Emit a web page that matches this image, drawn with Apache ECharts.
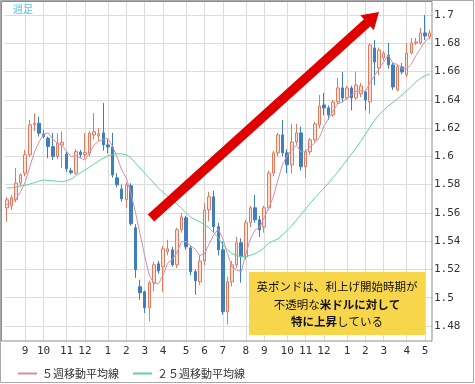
<!DOCTYPE html>
<html><head><meta charset="utf-8">
<script src="https://cdn.jsdelivr.net/npm/echarts@6/dist/echarts.min.js"></script>
<style>html,body{margin:0;padding:0;background:#fff}#c{width:475px;height:384px}</style>
</head><body><div id="c"></div>
<script>
const opens=[1.5636,1.5650,1.5693,1.5811,1.5881,1.6011,1.6223,1.6235,1.6159,1.6129,
1.6069,1.5999,1.6080,1.6017,1.5898,1.5881,1.6030,1.6011,1.6023,1.6152,
1.6145,1.6166,1.6081,1.6067,1.5848,1.5770,1.5693,1.5792,1.5495,1.5078,
1.5042,1.4929,1.5106,1.5240,1.5219,1.5325,1.5339,1.5233,1.5481,1.5565,
1.5353,1.5184,1.5113,1.5260,1.5622,1.5714,1.5502,1.5339,1.4901,1.5113,
1.5233,1.5389,1.5290,1.5530,1.5636,1.5551,1.5500,1.5636,1.5883,1.6025,
1.6152,1.6025,1.5940,1.6102,1.6166,1.5926,1.6032,1.6117,1.6223,1.6364,
1.6343,1.6293,1.6385,1.6484,1.6413,1.6484,1.6413,1.6442,1.6456,1.6385,
1.6767,1.6625,1.6696,1.6717,1.6647,1.6470,1.6633,1.6576,1.6731,1.6802,
1.6802,1.6873,1.6845];
const closes=[1.5693,1.5707,1.5811,1.5869,1.6011,1.6223,1.6235,1.6164,1.6140,1.6069,
1.6000,1.6093,1.6100,1.5912,1.5886,1.6034,1.6011,1.6027,1.6164,1.6175,
1.6160,1.6081,1.6067,1.5869,1.5799,1.5700,1.5799,1.5523,1.5198,1.5035,
1.4929,1.5106,1.5233,1.5190,1.5346,1.5346,1.5233,1.5481,1.5572,1.5360,
1.5184,1.5120,1.5260,1.5622,1.5714,1.5502,1.5339,1.4901,1.5113,1.5233,
1.5389,1.5290,1.5530,1.5636,1.5551,1.5480,1.5636,1.5883,1.6025,1.6152,
1.6025,1.5940,1.6102,1.6166,1.5926,1.6032,1.6117,1.6230,1.6357,1.6343,
1.6293,1.6385,1.6484,1.6413,1.6484,1.6413,1.6505,1.6498,1.6399,1.6788,
1.6668,1.6753,1.6731,1.6647,1.6491,1.6633,1.6597,1.6731,1.6802,1.6809,
1.6873,1.6852,1.6873];
const lows=[1.5537,1.5622,1.5675,1.5790,1.5860,1.5995,1.6180,1.6140,1.6129,1.5987,
1.5975,1.5980,1.5917,1.5890,1.5873,1.5870,1.5990,1.5985,1.6000,1.6120,
1.6110,1.6040,1.6020,1.5850,1.5780,1.5680,1.5636,1.5510,1.5141,1.4986,
1.4892,1.4833,1.5045,1.5170,1.5042,1.5300,1.5219,1.5210,1.5460,1.5340,
1.5160,1.5021,1.5090,1.5230,1.5540,1.5460,1.5300,1.4880,1.4809,1.5080,
1.5210,1.5106,1.5270,1.5500,1.5530,1.5430,1.5460,1.5620,1.5860,1.6000,
1.6000,1.5880,1.5880,1.6080,1.5900,1.5848,1.6010,1.6100,1.6200,1.6290,
1.6258,1.6280,1.6370,1.6385,1.6400,1.6325,1.6400,1.6420,1.6325,1.6300,
1.6505,1.6576,1.6680,1.6620,1.6470,1.6460,1.6580,1.6560,1.6720,1.6788,
1.6790,1.6823,1.6830];
const highs=[1.5714,1.5728,1.5917,1.5880,1.6046,1.6258,1.6305,1.6281,1.6187,1.6140,
1.6166,1.6164,1.6175,1.6035,1.5920,1.6050,1.6045,1.6165,1.6180,1.6307,
1.6200,1.6378,1.6120,1.6166,1.5880,1.5800,1.5815,1.5810,1.5520,1.5127,
1.5050,1.5120,1.5256,1.5260,1.5367,1.5410,1.5360,1.5495,1.5601,1.5580,
1.5370,1.5200,1.5300,1.5670,1.5749,1.5756,1.5530,1.5400,1.5150,1.5260,
1.5430,1.5420,1.5550,1.5650,1.5728,1.5580,1.5650,1.5900,1.6040,1.6166,
1.6258,1.6050,1.6230,1.6230,1.6210,1.6050,1.6130,1.6245,1.6435,1.6449,
1.6360,1.6400,1.6555,1.6597,1.6500,1.6500,1.6600,1.6520,1.6470,1.6800,
1.6823,1.6770,1.6745,1.6802,1.6660,1.6650,1.6660,1.6802,1.6837,1.6837,
1.6908,1.7000,1.6894];
const ma5=[1.5657,1.5671,1.5700,1.5749,1.5818,1.5924,1.6030,1.6100,1.6155,1.6166,
1.6122,1.6093,1.6080,1.6035,1.5998,1.6005,1.5989,1.5974,1.6024,1.6082,
1.6107,1.6121,1.6129,1.6070,1.5995,1.5903,1.5847,1.5738,1.5604,1.5451,
1.5297,1.5158,1.5100,1.5099,1.5161,1.5244,1.5270,1.5319,1.5396,1.5398,
1.5366,1.5343,1.5299,1.5309,1.5380,1.5444,1.5487,1.5416,1.5314,1.5218,
1.5195,1.5185,1.5311,1.5416,1.5479,1.5497,1.5567,1.5637,1.5715,1.5835,
1.5944,1.6005,1.6049,1.6077,1.6032,1.6033,1.6069,1.6094,1.6132,1.6216,
1.6268,1.6322,1.6372,1.6384,1.6412,1.6436,1.6460,1.6463,1.6460,1.6521,
1.6572,1.6621,1.6668,1.6717,1.6658,1.6651,1.6620,1.6620,1.6651,1.6714,
1.6762,1.6813,1.6842];
const ma25=[1.5777,1.5777,1.5782,1.5789,1.5796,1.5804,1.5814,1.5825,1.5833,1.5830,
1.5827,1.5824,1.5820,1.5827,1.5840,1.5863,1.5883,1.5903,1.5924,1.5947,
1.5968,1.5988,1.6005,1.6011,1.6018,1.6018,1.6012,1.5989,1.5952,1.5918,
1.5881,1.5846,1.5813,1.5775,1.5746,1.5719,1.5692,1.5663,1.5633,1.5600,
1.5570,1.5553,1.5537,1.5517,1.5494,1.5461,1.5424,1.5375,1.5338,1.5312,
1.5299,1.5290,1.5291,1.5300,1.5312,1.5330,1.5355,1.5387,1.5403,1.5416,
1.5447,1.5476,1.5510,1.5549,1.5588,1.5628,1.5669,1.5706,1.5741,1.5776,
1.5812,1.5851,1.5890,1.5933,1.5975,1.6018,1.6060,1.6107,1.6156,1.6205,
1.6254,1.6295,1.6327,1.6358,1.6382,1.6408,1.6435,1.6464,1.6494,1.6527,
1.6552,1.6571,1.6583];
const monthTickIdx=[4,8,13,17,22,26,30,34,39,43,47,52,56,61,65,69,74,78,82,87,91];
const monthLabels=['9','10','11','12','1','2','3','4','5','6','7','8','9','10','11','12','1','2','3','4','5'];
const yTicks=[1.48,1.5,1.52,1.54,1.56,1.58,1.6,1.62,1.64,1.66,1.68,1.7];
const seriesNames=['５週移動平均線','２５週移動平均線'];

const weeks=[];
(function(){let t=Date.UTC(2012,7,6);for(let i=0;i<opens.length;i++){weeks.push(new Date(t).toISOString().slice(0,10));t+=7*864e5;}})();
const candleData=opens.map((o,i)=>[o,closes[i],lows[i],highs[i]]);

const chart=echarts.init(document.getElementById('c'),null,{renderer:'canvas'});
const mono='DejaVu Sans Mono';
const jp='"Noto Sans CJK JP", sans-serif';

// arrow geometry (annotation, pixel space)
function arrowPts(tx,ty,px,py,h,L,H){
  const dx=px-tx,dy=py-ty,len=Math.hypot(dx,dy),ux=dx/len,uy=dy/len,nx=-uy,ny=ux;
  const bx=px-L*ux,by=py-L*uy;
  return [[tx+h*nx,ty+h*ny],[bx+h*nx,by+h*ny],[bx+H*nx,by+H*ny],[px,py],[bx-H*nx,by-H*ny],[bx-h*nx,by-h*ny],[tx-h*nx,ty-h*ny]];
}

chart.setOption({
  animation:false,
  grid:{left:4.5,right:43,top:2,bottom:43},
  xAxis:[
    {type:'category',data:weeks,boundaryGap:true,axisLine:{show:false},axisTick:{show:false},axisLabel:{show:false},splitLine:{show:false}},
    {type:'value',min:-0.5,max:opens.length-0.5,position:'bottom',
     axisLine:{show:false},
     axisTick:{show:false,customValues:monthTickIdx},
     axisLabel:{customValues:monthTickIdx,formatter:v=>monthLabels[monthTickIdx.indexOf(Math.round(v))],margin:5,fontFamily:mono,fontSize:11,color:'#333'},
     splitLine:{show:true,lineStyle:{color:'#dcdcdc',width:1}}}
  ],
  yAxis:{type:'value',position:'right',min:1.46939,max:1.7092,
    axisLine:{show:false},
    axisTick:{show:false,customValues:yTicks},
    axisLabel:{customValues:yTicks,formatter:v=>String(Math.round(v*100)/100),margin:2,fontFamily:mono,fontSize:11,color:'#333'},
    splitLine:{show:true,lineStyle:{color:'#dcdcdc',width:1}}},
  legend:{left:13,top:363,icon:'rect',itemWidth:19,itemHeight:2,itemGap:14,
    textStyle:{fontFamily:jp,fontSize:11,color:'#333'},data:seriesNames},
  series:[
    {type:'candlestick',name:'週足',xAxisIndex:0,yAxisIndex:0,data:candleData,barWidth:3,
     itemStyle:{color:'#fbe0d6',color0:'#3f7fc0',borderColor:'#e27a5e',borderColor0:'#3f7fc0',borderWidth:1}},
    {type:'line',name:seriesNames[0],xAxisIndex:0,data:ma5,showSymbol:false,symbol:'none',
     itemStyle:{color:'#d98cab'},lineStyle:{color:'#d98cab',width:1}},
    {type:'line',name:seriesNames[1],xAxisIndex:0,data:ma25,showSymbol:false,symbol:'none',
     itemStyle:{color:'#5fd39b'},lineStyle:{color:'#5fd39b',width:1}}
  ],
  graphic:[
    {type:'rect',z:200,silent:true,shape:{x:0.5,y:0.5,width:473,height:382},style:{fill:'none',stroke:'#a8a8a8',lineWidth:1}},
    {type:'rect',z:200,silent:true,shape:{x:1.5,y:1.5,width:430.5,height:339.5},style:{fill:'none',stroke:'#8c8c8c',lineWidth:1}},
    {type:'text',z:200,x:13,y:4,style:{text:'週足',fontSize:10,fontFamily:jp,fill:'#55c0ee'}},
    {type:'polygon',z:150,silent:true,shape:{points:arrowPts(151,218,379,12,4.8,16,10)},style:{fill:'#e00000'}},
    {type:'rect',z:150,silent:true,shape:{x:249,y:272,width:176,height:63},style:{fill:'#f8d64c'}},
    {type:'text',z:160,x:337,y:287,style:{text:'英ポンドは、利上げ開始時期が',fontSize:11.5,fontFamily:jp,fill:'#111',align:'center',verticalAlign:'middle'}},
    {type:'text',z:160,x:337,y:305,style:{text:'不透明な{b|米ドルに対して}',fontSize:11.5,fontFamily:jp,fill:'#111',align:'center',verticalAlign:'middle',
      rich:{b:{fontWeight:'bold',fontSize:11.5,fontFamily:jp,fill:'#111'}}}},
    {type:'text',z:160,x:337,y:322,style:{text:'{b|特に上昇}している',fontSize:11.5,fontFamily:jp,fill:'#111',align:'center',verticalAlign:'middle',
      rich:{b:{fontWeight:'bold',fontSize:11.5,fontFamily:jp,fill:'#111'}}}}
  ]
});
</script></body></html>
